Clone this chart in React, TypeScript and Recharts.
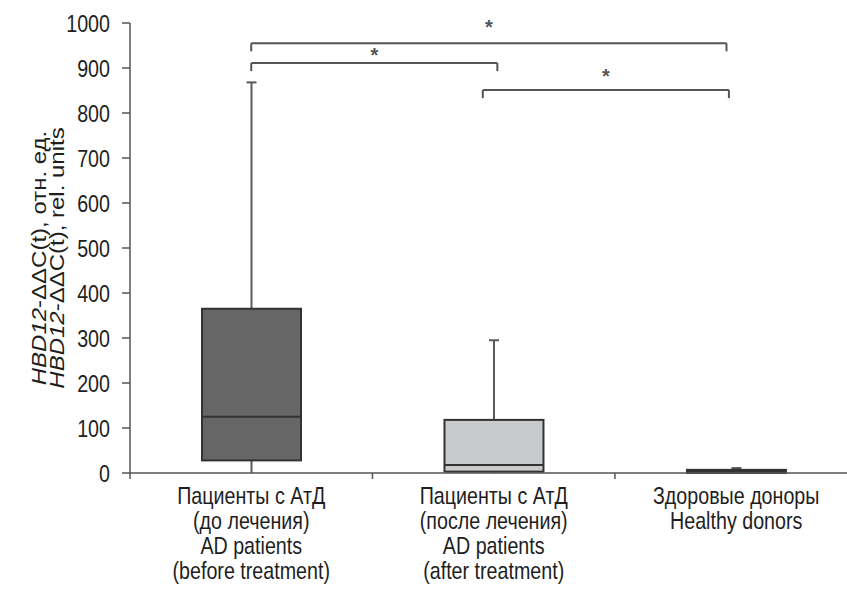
import React from 'react';
import { ComposedChart, Bar, XAxis, YAxis, ReferenceLine, ReferenceDot } from 'recharts';

// ---------- data ----------
const groupLabels: string[][] = [
  ['Пациенты с АтД', '(до лечения)', 'AD patients', '(before treatment)'],
  ['Пациенты с АтД', '(после лечения)', 'AD patients', '(after treatment)'],
  ['Здоровые доноры', 'Healthy donors'],
];
const groupPos = [0.5, 1.5, 2.5];
const minVals = [0, 0, 0];
const q1Vals = [28, 3, 0];
const medianVals = [125, 18, 3];
const q3Vals = [365, 118, 7];
const maxVals = [868, 295, 11];

const yTicks = [0, 100, 200, 300, 400, 500, 600, 700, 800, 900, 1000];
const xDividers = [0, 1, 2];
const xDomainMax = 2.957;

// significance brackets: from, to, bracket level, star level
const bracketFrom = [0.5, 0.5, 1.455];
const bracketTo = [2.46, 1.515, 2.47];
const bracketLevel = [955, 911, 851];
const starLevel = [1000, 938, 892];
const bracketDrop = 18;

// ---------- style ----------
const FONT = "'Liberation Sans', Arial, sans-serif";
const NARROW = 0.82;
const AXIS = '#555555';
const TEXT = '#1e1e1e';
const boxFills = ['#666666', '#c9cacc', '#222222'];
const boxStroke = '#333333';
const whiskerColor = '#5a5a5a';

const rows = groupPos.map((p, i) => ({
  pos: p,
  range: [minVals[i], maxVals[i]],
  min: minVals[i],
  q1: q1Vals[i],
  median: medianVals[i],
  q3: q3Vals[i],
  max: maxVals[i],
  idx: i,
}));

const BoxShape = (props: any) => {
  const { x, y, width, height, payload } = props;
  const lo = payload.min;
  const hi = payload.max;
  const top = Math.min(y, y + height);
  const h = Math.abs(height);
  const toY = (v: number) => top + (hi === lo ? 0 : (h * (hi - v)) / (hi - lo));
  const cx = x + width / 2;
  const fill = boxFills[payload.idx];
  const yMax = toY(payload.max);
  const yQ3 = toY(payload.q3);
  const yQ1 = toY(payload.q1);
  const yMin = toY(payload.min);
  const yMed = toY(payload.median);
  return (
    <g>
      <line x1={cx} x2={cx} y1={yMax} y2={yQ3} stroke={whiskerColor} strokeWidth={2} />
      <line x1={cx - 5} x2={cx + 5} y1={yMax} y2={yMax} stroke={whiskerColor} strokeWidth={2} />
      <line x1={cx} x2={cx} y1={yQ1} y2={yMin} stroke={whiskerColor} strokeWidth={2} />
      <rect x={x} y={yQ3} width={width} height={Math.max(yQ1 - yQ3, 0.5)} fill={fill} stroke={boxStroke} strokeWidth={2} />
      <line x1={x} x2={x + width} y1={yMed} y2={yMed} stroke={boxStroke} strokeWidth={2} />
    </g>
  );
};

const XTick = (props: any) => {
  const { x, y, payload } = props;
  const idx = groupPos.indexOf(payload.value);
  if (idx >= 0) {
    const lines = groupLabels[idx];
    return (
      <g transform={`translate(${x},${y}) scale(${NARROW},1)`}>
        <text textAnchor="middle" fontSize={24} fill={TEXT} fontFamily={FONT}>
          {lines.map((l, i) => (
            <tspan key={i} x={0} y={31 + i * 25}>
              {l}
            </tspan>
          ))}
        </text>
      </g>
    );
  }
  return <line x1={x} x2={x} y1={y} y2={y + 6} stroke={AXIS} strokeWidth={1.5} />;
};

const YTick = (props: any) => {
  const { x, y, payload } = props;
  return (
    <g transform={`translate(${x},${y}) scale(${NARROW},1)`}>
      <text textAnchor="end" dy="0.36em" fontSize={24} fill={TEXT} fontFamily={FONT}>
        {payload.value}
      </text>
    </g>
  );
};

const YLabel = (props: any) => {
  const vb = props.viewBox || { x: 0, y: 23, width: 130, height: 450 };
  const cy = vb.y + vb.height / 2 + 10;
  return (
    <g transform={`translate(${vb.x + 46},${cy}) scale(${NARROW},1) rotate(-90)`}>
      <text textAnchor="middle" fontSize={24} fill={TEXT} fontFamily={FONT}>
        <tspan x={0} y={0}>
          <tspan fontStyle="italic">HBD12</tspan>-ΔΔC(t), отн. ед.
        </tspan>
        <tspan x={0} y={22}>
          <tspan fontStyle="italic">HBD12</tspan>-ΔΔC(t), rel. units
        </tspan>
      </text>
    </g>
  );
};

const Star = (props: any) => {
  const { cx, cy } = props;
  return (
    <text x={cx} y={cy + 11} textAnchor="middle" fontSize={20} fontWeight="bold" fill={AXIS} fontFamily={FONT}>
      *
    </text>
  );
};

export default function App() {
  return (
    <div style={{ position: 'absolute', left: 0, top: 0, width: 847, height: 592, background: '#fff' }}>
      <ComposedChart width={847} height={592} data={rows} margin={{ top: 23, right: 0, bottom: 19, left: 0 }}>
        <XAxis
          dataKey="pos"
          type="number"
          domain={[0, xDomainMax]}
          allowDataOverflow
          ticks={[0, 0.5, 1, 1.5, 2, 2.5]}
          interval={0}
          tick={<XTick />}
          tickLine={false}
          tickSize={0}
          tickMargin={0}
          height={100}
          stroke={AXIS}
          strokeWidth={1.5}
        />
        <YAxis
          type="number"
          domain={[0, 1000]}
          ticks={yTicks}
          interval={0}
          width={130}
          tickSize={8}
          tickMargin={12}
          tick={<YTick />}
          stroke={AXIS}
          strokeWidth={1.5}
          label={{ content: <YLabel /> }}
        />
        <Bar dataKey="range" barSize={99} shape={<BoxShape />} isAnimationActive={false} />
        {bracketLevel.map((lv, i) => (
          <ReferenceLine
            key={`h${i}`}
            segment={[
              { x: bracketFrom[i], y: lv },
              { x: bracketTo[i], y: lv },
            ]}
            stroke={AXIS}
            strokeWidth={2}
          />
        ))}
        {bracketLevel.map((lv, i) => (
          <ReferenceLine
            key={`l${i}`}
            segment={[
              { x: bracketFrom[i], y: lv },
              { x: bracketFrom[i], y: lv - bracketDrop },
            ]}
            stroke={AXIS}
            strokeWidth={2}
          />
        ))}
        {bracketLevel.map((lv, i) => (
          <ReferenceLine
            key={`r${i}`}
            segment={[
              { x: bracketTo[i], y: lv },
              { x: bracketTo[i], y: lv - bracketDrop },
            ]}
            stroke={AXIS}
            strokeWidth={2}
          />
        ))}
        {starLevel.map((lv, i) => (
          <ReferenceDot
            key={`s${i}`}
            x={(bracketFrom[i] + bracketTo[i]) / 2}
            y={lv}
            r={0}
            ifOverflow="visible"
            shape={<Star />}
          />
        ))}
      </ComposedChart>
    </div>
  );
}
